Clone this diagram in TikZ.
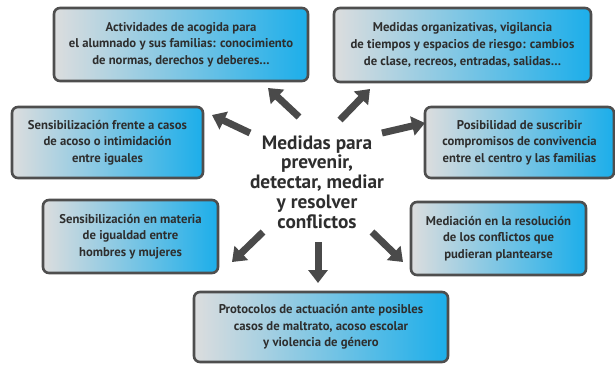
\documentclass[tikz,border=0pt]{standalone}
\usepackage{fontspec}
\setmainfont{PT Sans}
\usetikzlibrary{arrows.meta}
\definecolor{boxgray}{HTML}{DCDDDE}
\definecolor{boxblue}{HTML}{1CAEEA}
\definecolor{edgegray}{HTML}{4E4E4E}
\definecolor{txtgray}{HTML}{2E2E2E}
\definecolor{arrgray}{HTML}{4A4A4A}
\begin{document}
\begin{tikzpicture}[x=1pt,y=-1pt,
  mbox/.style={draw=edgegray, line width=2.6pt, rounded corners=6pt,
    left color=boxgray, right color=boxblue, align=center,
    font=\bfseries\fontsize{12.7}{16.6}\selectfont, text=txtgray, inner sep=0pt},
  marrow/.style={draw=arrgray, line width=7pt, -{Triangle[width=19pt,length=13pt]}}]
\useasboundingbox (0,0) rectangle (615,364);
\fill[white] (0,0) rectangle (615,364);
\node[mbox, minimum width=254pt, minimum height=73pt] (b1) at (181,44.5)
  {Actividades de acogida para\\el alumnado y sus familias: conocimiento\\de normas, derechos y deberes\dots};
\node[mbox, minimum width=257pt, minimum height=74pt] (b2) at (462.5,45)
  {Medidas organizativas, vigilancia\\de tiempos y espacios de riesgo: cambios\\de clase, recreos, entradas, salidas\dots};
\node[mbox, minimum width=191pt, minimum height=71pt] (b3) at (107.5,142.5)
  {Sensibilización frente a casos\\de acoso o intimidación\\entre iguales};
\node[mbox, minimum width=189pt, minimum height=71pt] (b4) at (519.5,142.5)
  {Posibilidad de suscribir\\compromisos de convivencia\\entre el centro y las familias};
\node[mbox, minimum width=175pt, minimum height=73pt] (b5) at (130.5,236.5)
  {Sensibilización en materia\\de igualdad entre\\hombres y mujeres};
\node[mbox, minimum width=175pt, minimum height=73pt] (b6) at (498.5,238.5)
  {Mediación en la resolución\\de los conflictos que\\pudieran plantearse};
\node[mbox, minimum width=254pt, minimum height=70pt] (b7) at (321,327)
  {Protocolos de actuación ante posibles\\casos de maltrato, acoso escolar\\y violencia de género};
\node[align=center, text=txtgray, font=\bfseries\fontsize{19.3}{19.8}\selectfont, inner sep=0pt] (c) at (317,182)
  {Medidas para\\prevenir,\\detectar, mediar\\y resolver\\conflictos};
\coordinate (t1) at (299,117); \coordinate (h1) at (268,88);
\coordinate (t2) at (340,120); \coordinate (h2) at (370,89);
\coordinate (t3) at (250,133); \coordinate (h3) at (212,115);
\coordinate (t4) at (382,133); \coordinate (h4) at (425,123);
\coordinate (t5) at (263,232); \coordinate (h5) at (232,262);
\coordinate (t6) at (318,242); \coordinate (h6) at (318,283);
\coordinate (t7) at (372,232); \coordinate (h7) at (403,262);
\foreach \i in {1,...,7} \draw[marrow] (t\i) -- (h\i);
\end{tikzpicture}
\end{document}
